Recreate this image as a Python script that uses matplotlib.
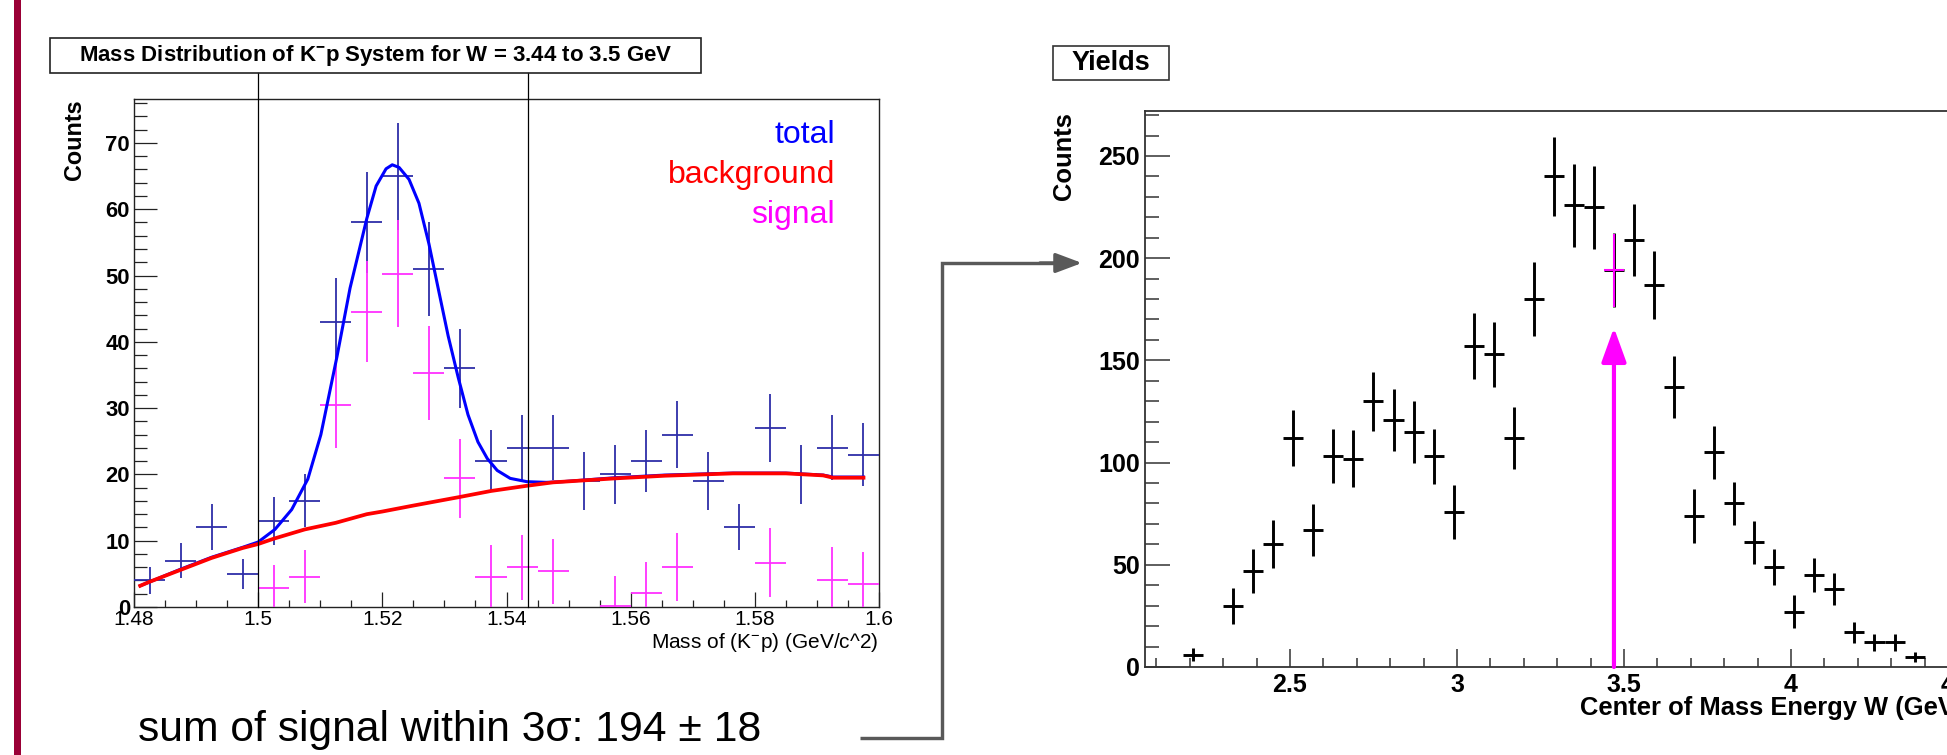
import numpy as np
import matplotlib
matplotlib.use("Agg")
import matplotlib.pyplot as plt
from matplotlib.patches import Rectangle, FancyArrowPatch
from matplotlib.lines import Line2D
from matplotlib.ticker import MultipleLocator
import matplotlib.transforms as mtransforms

plt.rcParams['font.family'] = ['Liberation Sans', 'DejaVu Sans']
plt.rcParams['mathtext.fontset'] = 'custom'
plt.rcParams['mathtext.rm'] = 'Liberation Sans'
plt.rcParams['mathtext.bf'] = 'Liberation Sans:bold'
plt.rcParams['mathtext.default'] = 'regular'

# ---------------- data: left panel (K- p invariant mass) ----------------
mass_centers = [1.4825, 1.4875, 1.4925, 1.4975, 1.5025, 1.5075, 1.5125, 1.5175,
                1.5225, 1.5275, 1.5325, 1.5375, 1.5425, 1.5475, 1.5525, 1.5575,
                1.5625, 1.5675, 1.5725, 1.5775, 1.5825, 1.5875, 1.5925, 1.5975]
total_counts = [4, 7, 12, 5, 13, 16, 43, 58, 65, 51, 36, 22,
                24, 24, 19, 20, 22, 26, 19, 12, 27, 20, 24, 23]
nan = np.nan
signal_counts = [nan, nan, nan, nan, 2.8, 4.6, 30.5, 44.5, 50.3, 35.3, 19.4, 4.6,
                 6.0, 5.4, nan, 0.2, 2.1, 6.0, nan, nan, 6.7, nan, 4.1, 3.5]

# fitted curves
bkg_x = [1.481, 1.4825, 1.4875, 1.4925, 1.4975, 1.5, 1.5025, 1.5075, 1.5125, 1.5175,
         1.52, 1.525, 1.5325, 1.5375, 1.5434, 1.5475, 1.5575, 1.5655, 1.5765, 1.585,
         1.591, 1.5926, 1.5975]
bkg_y = [3.2, 3.8, 5.6, 7.4, 8.9, 9.5, 10.3, 11.7, 12.7, 14.0,
         14.4, 15.3, 16.6, 17.5, 18.3, 18.8, 19.4, 19.8, 20.15, 20.15,
         19.85, 19.5, 19.5]
tot_x = [1.481, 1.4875, 1.4925, 1.4975, 1.5, 1.5027, 1.5054, 1.508, 1.5101, 1.5127,
         1.5148, 1.5175, 1.519, 1.5206, 1.5216, 1.5227, 1.5243, 1.5259, 1.5275, 1.5291,
         1.5306, 1.5322, 1.5338, 1.5354, 1.5369, 1.5385, 1.5406, 1.5433, 1.5464, 1.549,
         1.5575, 1.5655, 1.5765, 1.585, 1.591, 1.5926, 1.5975]
tot_y = [3.2, 5.7, 7.5, 9.0, 9.8, 11.7, 14.7, 19.3, 26.0, 37.8,
         48.1, 58.6, 63.5, 66.1, 66.7, 66.3, 64.5, 60.9, 54.8, 47.6,
         40.9, 34.7, 29.0, 24.9, 22.4, 20.6, 19.4, 18.9, 18.8, 18.9,
         19.5, 19.9, 20.2, 20.2, 19.9, 19.6, 19.6]
window_lines = [1.4999, 1.5434]
mass_ticks = [1.48, 1.50, 1.52, 1.54, 1.56, 1.58, 1.60]
mass_tick_labels = ['1.48', '1.5', '1.52', '1.54', '1.56', '1.58', '1.6']
left_yticks = [0, 10, 20, 30, 40, 50, 60, 70]
left_ytick_labels = ['0', '10', '20', '30', '40', '50', '60', '70']

# ---------------- data: right panel (yields vs W) ----------------
w_centers = [2.21, 2.33, 2.39, 2.45, 2.51, 2.57, 2.63, 2.69, 2.75, 2.81, 2.87, 2.93,
             2.99, 3.05, 3.11, 3.17, 3.23, 3.29, 3.35, 3.41, 3.47, 3.53, 3.59, 3.65,
             3.71, 3.77, 3.83, 3.89, 3.95, 4.01, 4.07, 4.13, 4.19, 4.25, 4.31, 4.37]
yields = [6, 30, 47, 60, 112, 67, 103, 102, 130, 121, 115, 103,
          76, 157, 153, 112, 180, 240, 226, 225, 194, 209, 187, 137,
          74, 105, 80, 61, 49, 27, 45, 38, 17, 12, 12, 5]
yield_errors = [3.2, 8.8, 10.7, 11.8, 13.6, 12.5, 13.2, 13.9, 14.5, 15.2, 15.0, 13.6,
                13.2, 16.3, 16.0, 15.0, 18.2, 19.3, 20.3, 20.3, 18.1, 17.5, 16.7, 15.3,
                13.2, 12.9, 10.7, 10.6, 8.9, 8.1, 8.5, 7.8, 5.1, 4.2, 4.1, 2.4]
highlight_w = 3.47
highlight_yield = 194
highlight_err = 18
w_ticks = [2.5, 3.0, 3.5, 4.0, 4.5]
w_tick_labels = ['2.5', '3', '3.5', '4', '4.5']
right_yticks = [0, 50, 100, 150, 200, 250]
right_ytick_labels = ['0', '50', '100', '150', '200', '250']

# ---------------- figure ----------------
W, H = 1947, 755
fig = plt.figure(figsize=(W / 100, H / 100), dpi=100)
fig.patch.set_facecolor('white')


def rect(x0, ytop, x1, ybot):
    return [x0 / W, (H - ybot) / H, (x1 - x0) / W, (ybot - ytop) / H]


def fx(x):
    return x / W


def fy(y):
    return (H - y) / H


PT = 0.72  # points per pixel at dpi 100

# crimson side bar
fig.add_artist(Rectangle((fx(14), 0), 7 / W, 1, transform=fig.transFigure,
                         color='#9a0036', lw=0))

# ======== left panel ========
L_TOP, L_BOT = 98.5, 607
axL = fig.add_axes(rect(134, L_TOP, 879, L_BOT))
axL.set_xlim(1.48, 1.6)
axL.set_ylim(0, 76.7)
for s in axL.spines.values():
    s.set_linewidth(1.0)
    s.set_color('#222222')

blue_pts = '#2e2ea8'
mag_pts = '#ff30ff'
errL = np.sqrt(np.array(total_counts, dtype=float))
axL.errorbar(mass_centers, total_counts, xerr=0.0025, yerr=errL, fmt='none',
             ecolor=blue_pts, elinewidth=1.3, capsize=0, zorder=3)
axL.errorbar(mass_centers, signal_counts, xerr=0.0025, yerr=errL, fmt='none',
             ecolor=mag_pts, elinewidth=1.3, capsize=0, zorder=3)
axL.plot(tot_x, tot_y, color='#0000ff', lw=2.2, zorder=4, solid_joinstyle='round')
axL.plot(bkg_x, bkg_y, color='#ff0000', lw=2.7, zorder=5)

blend = mtransforms.blended_transform_factory(axL.transData, axL.transAxes)
top_ax = (L_BOT - 73) / (L_BOT - L_TOP)
for xv in window_lines:
    axL.add_line(Line2D([xv, xv], [0, top_ax], transform=blend, clip_on=False,
                        color='black', lw=0.9, zorder=6))

axL.set_xticks(mass_ticks, mass_tick_labels, fontsize=15)
axL.set_yticks(left_yticks, left_ytick_labels, fontsize=15.8, fontweight='bold')
axL.xaxis.set_minor_locator(MultipleLocator(0.005))
axL.yaxis.set_minor_locator(MultipleLocator(2))
axL.tick_params(direction='in', which='both', top=False, right=False,
                width=0.9, color='#222222')
axL.tick_params(axis='y', which='major', length=23 * PT, pad=4 * PT)
axL.tick_params(axis='y', which='minor', length=12.5 * PT)
axL.tick_params(axis='x', which='major', length=15.5 * PT, pad=3 * PT)
axL.tick_params(axis='x', which='minor', length=7 * PT)

fig.text(fx(75), fy(99), 'Counts', rotation=90, ha='center', va='top',
         fontsize=16.8, fontweight='bold')
fig.text(fx(878), fy(643), 'Mass of (K$^{-}$p) (GeV/c^2)', ha='right', va='center',
         fontsize=15)

# title box
fig.add_artist(Rectangle((fx(50), fy(73)), 651 / W, 35 / H, transform=fig.transFigure,
                         fill=False, lw=1.2, ec='#222222'))
fig.text(fx(375.5), fy(56), 'Mass Distribution of K$^{-}$p System for W = 3.44 to 3.5 GeV',
         ha='center', va='center', fontsize=16.0, fontweight='bold')

# legend-like labels
fig.text(fx(835), fy(143), 'total', ha='right', va='baseline', fontsize=23, color='#0000ff')
fig.text(fx(835), fy(183), 'background', ha='right', va='baseline', fontsize=23, color='#ff0000')
fig.text(fx(835), fy(223), 'signal', ha='right', va='baseline', fontsize=23, color='#ff00ff')

fig.text(fx(138), fy(741), 'sum of signal within 3σ: 194 ± 18', ha='left', va='baseline',
         fontsize=30.7)

# ======== right panel ========
R_LEFT, R_RIGHT = 1145, 1963
axR = fig.add_axes(rect(R_LEFT, 111, R_RIGHT, 667))
axR.set_xlim(2.066, 4.515)
axR.set_ylim(0, 272)
for s in axR.spines.values():
    s.set_linewidth(1.3)
    s.set_color('#333333')

axR.errorbar(w_centers, yields, xerr=0.03, yerr=yield_errors, fmt='none',
             ecolor='black', elinewidth=2.1, capsize=0, zorder=3)
axR.errorbar([highlight_w], [highlight_yield], xerr=0.03, yerr=highlight_err, fmt='none',
             ecolor='#ff00ff', elinewidth=1.5, capsize=0, zorder=4)
axR.annotate('', xy=(highlight_w, 166), xytext=(highlight_w, 0),
             arrowprops=dict(arrowstyle='-|>,head_length=1.05,head_width=0.38',
                             mutation_scale=20, lw=3.0, color='#ff00ff',
                             shrinkA=0, shrinkB=0),
             annotation_clip=False, zorder=5)

axR.set_xticks(w_ticks, w_tick_labels, fontsize=18, fontweight='bold')
axR.set_yticks(right_yticks, right_ytick_labels, fontsize=18, fontweight='bold')
axR.xaxis.set_minor_locator(MultipleLocator(0.1))
axR.yaxis.set_minor_locator(MultipleLocator(10))
axR.tick_params(direction='in', which='both', top=False, right=False,
                width=1.1, color='#333333')
axR.tick_params(axis='y', which='major', length=25 * PT, pad=5 * PT)
axR.tick_params(axis='y', which='minor', length=14 * PT)
axR.tick_params(axis='x', which='major', length=18 * PT, pad=6 * PT)
axR.tick_params(axis='x', which='minor', length=9 * PT)

fig.text(fx(1064), fy(112), 'Counts', rotation=90, ha='center', va='top',
         fontsize=18.4, fontweight='bold')
fig.text(fx(R_RIGHT), fy(708), 'Center of Mass Energy W (GeV)', ha='right', va='center',
         fontsize=18.4, fontweight='bold')

fig.add_artist(Rectangle((fx(1053), fy(80)), 116 / W, 34 / H, transform=fig.transFigure,
                         fill=False, lw=1.2, ec='#333333'))
fig.text(fx(1111), fy(63), 'Yields', ha='center', va='center', fontsize=19.5,
         fontweight='bold')

# ======== connector arrow ========
conn_col = '#595959'
fig.add_artist(Line2D([fx(860), fx(942), fx(942), fx(1064)],
                      [fy(738), fy(738), fy(263), fy(263)],
                      transform=fig.transFigure, color=conn_col, lw=3.4 * PT,
                      solid_joinstyle='miter', solid_capstyle='butt'))
fig.add_artist(FancyArrowPatch(
    (fx(1040), fy(263)), (fx(1082), fy(263)), transform=fig.transFigure,
    arrowstyle='-|>,head_length=0.8,head_width=0.3', mutation_scale=20,
    color=conn_col, lw=3.4 * PT, shrinkA=0, shrinkB=0))

fig.savefig('out.png', dpi=100)
